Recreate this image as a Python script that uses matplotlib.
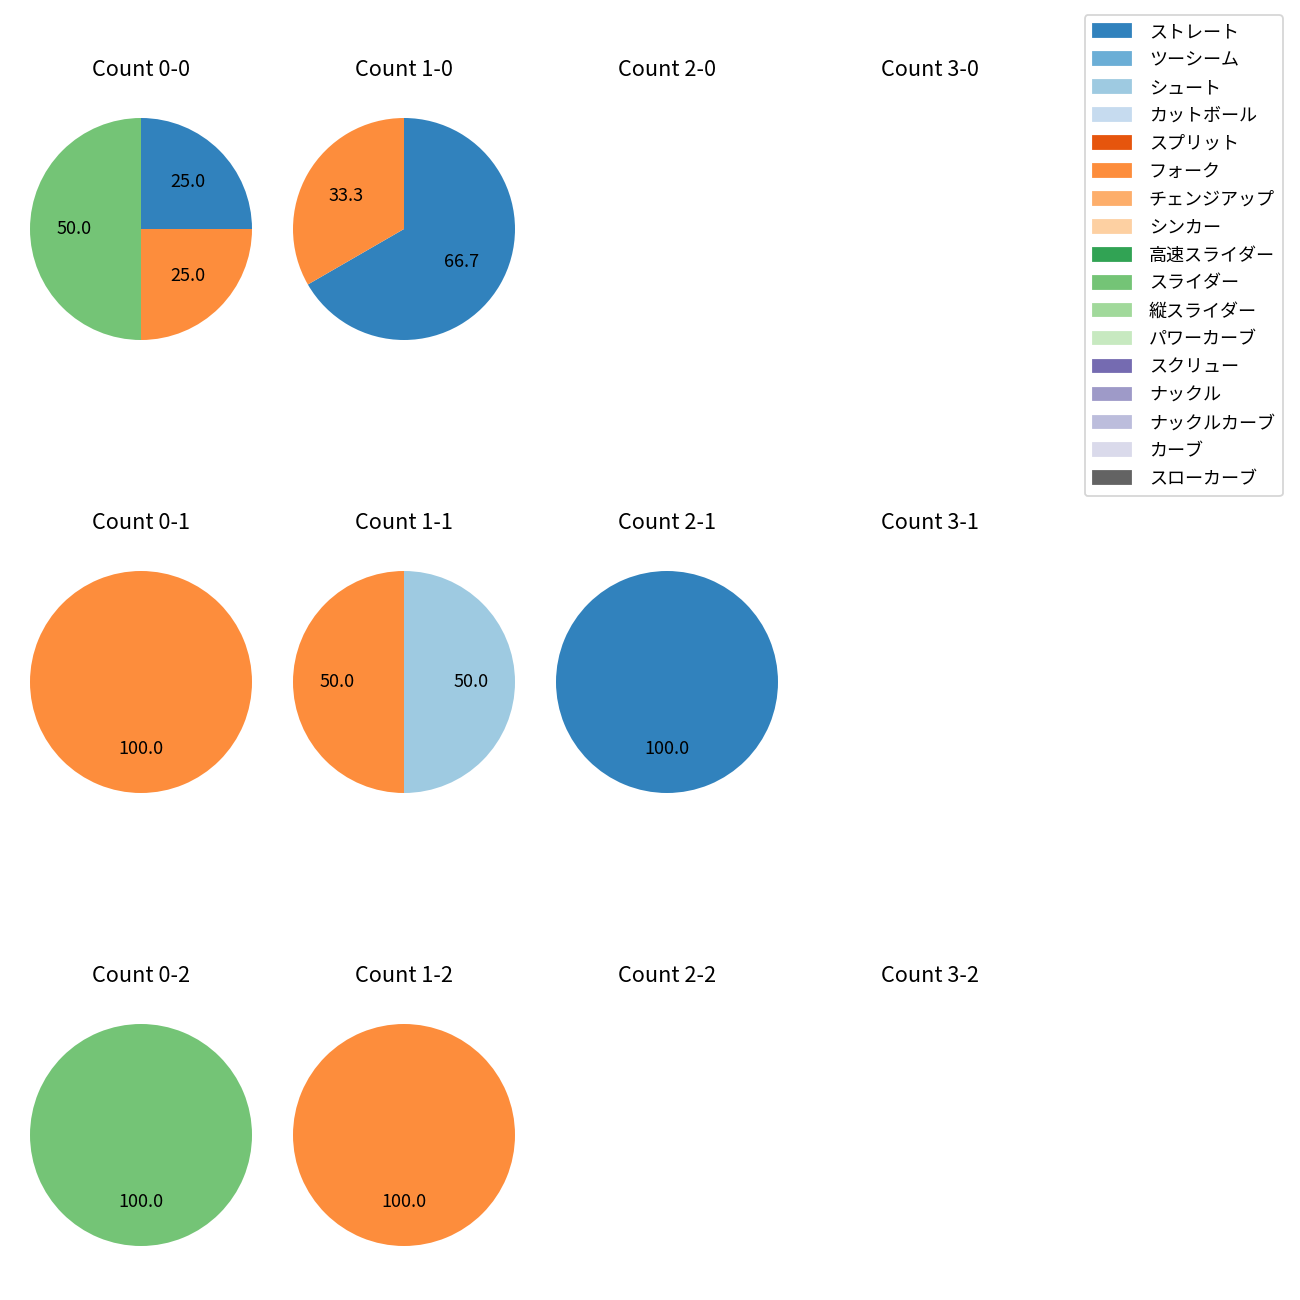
import matplotlib.pyplot as plt
from matplotlib.patches import Patch

plt.rcParams["font.family"] = ["Noto Sans CJK JP", "DejaVu Sans"]

pitch_types = [
    "ストレート", "ツーシーム", "シュート", "カットボール", "スプリット",
    "フォーク", "チェンジアップ", "シンカー", "高速スライダー", "スライダー",
    "縦スライダー", "パワーカーブ", "スクリュー", "ナックル", "ナックルカーブ",
    "カーブ", "スローカーブ",
]

balls = [0, 1, 2, 3]
strikes = [0, 1, 2]

# (balls, strikes) -> pitches thrown and how many
count_pitches = {
    (0, 0): ["ストレート", "フォーク", "スライダー"],
    (1, 0): ["ストレート", "フォーク"],
    (0, 1): ["フォーク"],
    (1, 1): ["シュート", "フォーク"],
    (2, 1): ["ストレート"],
    (0, 2): ["スライダー"],
    (1, 2): ["フォーク"],
}
count_values = {
    (0, 0): [1, 1, 2],
    (1, 0): [2, 1],
    (0, 1): [1],
    (1, 1): [1, 1],
    (2, 1): [1],
    (0, 2): [1],
    (1, 2): [1],
}

cmap = plt.get_cmap("tab20c")
colores = {p: cmap(i) for i, p in enumerate(pitch_types)}

fig = plt.figure(figsize=(10, 10), dpi=130)

size = 277.5 / 1300
for s in strikes:
    for b in balls:
        cx = (141 + 263 * b) / 1300
        cy = 1 - (229 + 453 * s) / 1300
        ax = fig.add_axes([cx - size / 2, cy - size / 2, size, size])
        key = (b, s)
        if key in count_pitches:
            nombres = count_pitches[key]
            valores = count_values[key]
            ax.pie(valores, colors=[colores[n] for n in nombres],
                   autopct="%.1f", startangle=90, counterclock=False)
        else:
            ax.set_xlim(-1.25, 1.25)
            ax.set_ylim(-1.25, 1.25)
            ax.axis("off")
        ax.set_title(f"Count {b}-{s}", fontsize=12, pad=7.7)

handles = [Patch(color=colores[p], label=p) for p in pitch_types]
fig.legend(handles=handles, loc="upper right", bbox_to_anchor=(0.9938, 0.9954),
           labelspacing=0.55, handletextpad=1.0, handlelength=2.1, borderpad=0.45)

fig.savefig("out.png", dpi=130)
